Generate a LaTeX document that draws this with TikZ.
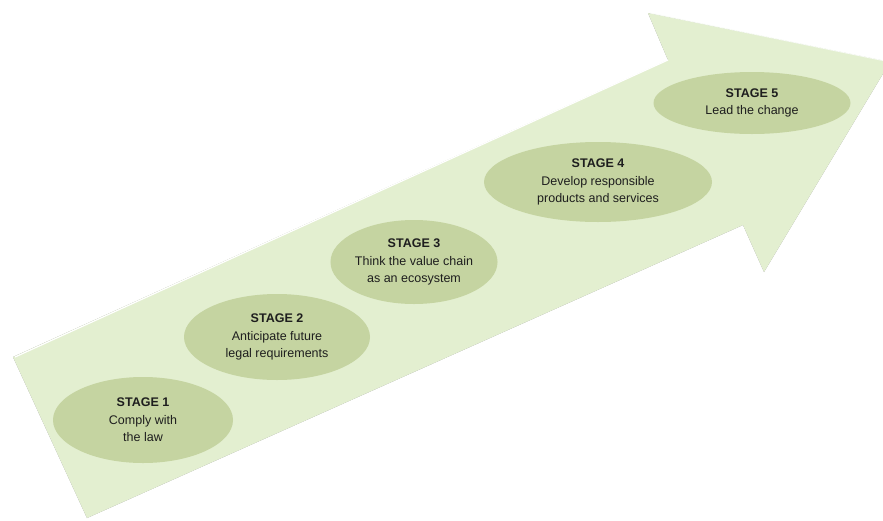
\documentclass[tikz,border=0pt]{standalone}
\usepackage{fontspec}
\setmainfont{Liberation Sans}
\usetikzlibrary{shapes.geometric}
\definecolor{arrowgreen}{RGB}{227,239,208}
\definecolor{stagegreen}{RGB}{197,212,161}
\definecolor{stagetext}{RGB}{30,30,30}
\tikzset{stage/.style={ellipse, fill=stagegreen, inner sep=0pt, align=center, text=stagetext, font=\fontsize{12.5}{17.5}\selectfont},
  arrowpath/.style={insert path={(A) -- (B) -- (C) -- (T) -- (D) -- (E) -- (F) -- cycle}}}

\begin{document}
\begin{tikzpicture}[x=1pt, y=-1pt]
\useasboundingbox (0,0) rectangle (883,520); \clip (0,0) rectangle (883,520);
\coordinate (A) at (13,357); \coordinate (B) at (668,60); \coordinate (C) at (648,13); \coordinate (T) at (890,62); \coordinate (D) at (764,272); \coordinate (E) at (743,225); \coordinate (F) at (87,518);
% soft shadow on the lower left
\fill[black!30, opacity=0.5, xshift=-2.5pt, yshift=-3pt] [arrowpath];
\fill[black!55, opacity=0.6, xshift=-1.2pt, yshift=-1.5pt] [arrowpath];
\fill[arrowgreen] [arrowpath];
\draw[white, line width=1.2pt] ([xshift=2pt]A) -- (B); \draw[white!80!arrowgreen, line width=0.8pt] ([xshift=2pt]C) -- (T);
\node[stage, minimum width=180pt, minimum height=86pt] (s1) at (143,420) {\textbf{STAGE 1}\\Comply with\\the law};
\node[stage, minimum width=186pt, minimum height=86pt] (s2) at (277,337) {\textbf{STAGE 2}\\Anticipate future\\legal requirements};
\node[stage, minimum width=166pt, minimum height=84pt] (s3) at (414,262) {\textbf{STAGE 3}\\Think the value chain\\as an ecosystem};
\node[stage, minimum width=228pt, minimum height=80pt] (s4) at (598,182) {\textbf{STAGE 4}\\Develop responsible\\products and services};
\node[stage, minimum width=197pt, minimum height=62pt] (s5) at (752,103) {\textbf{STAGE 5}\\Lead the change};
\end{tikzpicture}
\end{document}
